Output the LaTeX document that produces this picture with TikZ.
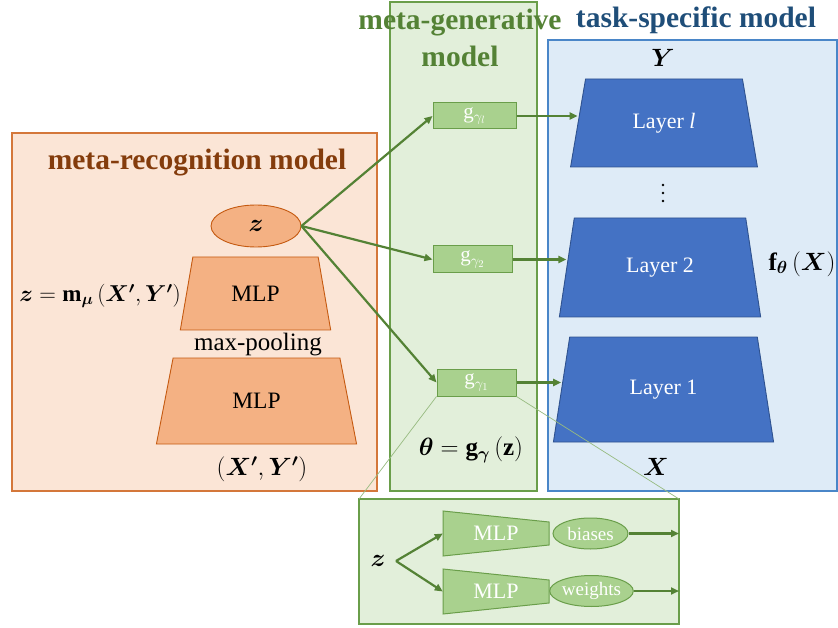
\RequirePackage{fix-cm}
\documentclass[tikz,border=0pt]{standalone}
\usepackage{fontspec}
\setmainfont{Liberation Serif}
\usepackage{amsmath,bm}
\usetikzlibrary{shapes,arrows.meta,positioning,calc}

\definecolor{recogfill}{HTML}{FBE5D6}
\definecolor{recogline}{HTML}{D4773A}
\definecolor{recogtitle}{HTML}{843C0C}
\definecolor{mlporange}{HTML}{F4B183}
\definecolor{mlpline}{HTML}{C55A11}
\definecolor{genfill}{HTML}{E2EFDA}
\definecolor{genline}{HTML}{6A9E4A}
\definecolor{gentitle}{HTML}{548235}
\definecolor{gbox}{HTML}{A9D18E}
\definecolor{taskfill}{HTML}{DEEBF7}
\definecolor{taskline}{HTML}{4A86C8}
\definecolor{tasktitle}{HTML}{1F4E79}
\definecolor{layerblue}{HTML}{4472C4}
\definecolor{layerline}{HTML}{2F528F}

\begin{document}
\begin{tikzpicture}[x=1pt,y=-1pt,
    panel/.style={rectangle, inner sep=0pt, outer sep=0pt, line width=1.2pt},
    title/.style={font=\fontsize{29.5}{37}\selectfont\bfseries, align=center},
    mlp/.style={trapezium, trapezium angle=76, trapezium stretches=true,
      fill=mlporange, draw=mlpline, line width=0.9pt, font=\fontsize{23.5}{26}\selectfont},
    layer/.style={trapezium, trapezium angle=76, trapezium stretches=true,
      fill=layerblue, draw=layerline, line width=0.9pt, text=white, font=\fontsize{22}{24}\selectfont},
    gen/.style={rectangle, fill=gbox, draw=genline, line width=1pt, text=white,
      minimum height=27, font=\fontsize{21}{23}\selectfont, inner sep=0pt},
    oval/.style={ellipse, fill=gbox, draw=genline, line width=1pt, text=white,
      minimum width=75, minimum height=31, inner sep=0pt, font=\fontsize{19}{21}\selectfont},
    lbl/.style={font=\fontsize{25}{28}\selectfont},
    arr/.style={-{Triangle[length=8pt,width=7pt]}, draw=gentitle, line width=2.2pt},
    zoomline/.style={draw=genline!70, line width=0.7pt}]
  \useasboundingbox (0,0) rectangle (838,628);

  % panels
  \node[panel, fill=recogfill, draw=recogline, minimum width=365, minimum height=358] (recog) at (194.5,312) {};
  \node[panel, fill=genfill, draw=genline, minimum width=147, minimum height=489] (gener) at (463.5,246.5) {};
  \node[panel, fill=taskfill, draw=taskline, minimum width=289, minimum height=451] (task) at (692.5,265.5) {};
  \node[panel, fill=genfill, draw=genline, minimum width=320, minimum height=125] (detail) at (519,561.5) {};

  % titles
  \node[title, text=recogtitle] (recogt) at (197,163) {meta-recognition model};
  \node[title, text=gentitle] (gent) at (460,38) {meta-generative\\model};
  \node[title, text=tasktitle] (taskt) at (696,20) {task-specific model};

  % meta-recognition model
  \node[ellipse, fill=mlporange, draw=mlpline, line width=0.9pt, minimum width=90, minimum height=42,
    lbl] (z) at (256,226) {$\bm{z}$};
  \node[mlp, minimum width=151, minimum height=73] (mlpup) at (255.5,293.5) {MLP};
  \node[lbl] (pool) at (258,345) {max-pooling};
  \node[mlp, minimum width=201, minimum height=86] (mlpdown) at (256.5,401) {MLP};
  \node[lbl] (xyp) at (262,469) {$(\bm{X'},\bm{Y'})$};
  \node[lbl, font=\fontsize{23}{26}\selectfont] (zeq) at (100,296) {$\bm{z}=\mathbf{m}_{\bm{\mu}}\,(\bm{X'},\bm{Y'})$};

  % meta-generative model
  \node[gen, minimum width=83, minimum height=26] (gl) at (474.5,116) {$\mathrm{g}_{\gamma_l}$};
  \node[gen, minimum width=79] (g2) at (472.5,259.5) {$\mathrm{g}_{\gamma_2}$};
  \node[gen, minimum width=79] (g1) at (476.5,382.5) {$\mathrm{g}_{\gamma_1}$};
  \node[lbl] (theta) at (471,450) {$\bm{\theta}=\mathbf{g}_{\bm{\gamma}}\,(\mathbf{z})$};

  % task-specific model
  \node[lbl] (y) at (663,58) {$\bm{Y}$};
  \node[layer, minimum width=188, minimum height=88] (ll) at (664,123) {Layer \textit{l}};
  \foreach \d in {185,193,201}
    \fill (663,\d) circle (1.3pt);
  \node[layer, minimum width=202, minimum height=99] (l2) at (660,267.5) {Layer 2};
  \node[layer, minimum width=221, minimum height=105] (l1) at (663.5,389.5) {Layer 1};
  \node[lbl] (x) at (656,467) {$\bm{X}$};
  \node[lbl] (f) at (802,264) {$\mathbf{f}_{\bm{\theta}}\,(\bm{X})$};

  % detail of g
  \draw[fill=gbox, draw=genline, line width=1pt] (443,511) -- (549,522) -- (549,545) -- (443,556) -- cycle;
  \draw[fill=gbox, draw=genline, line width=1pt] (443,569) -- (549,580) -- (549,603) -- (443,614) -- cycle;
  \node[minimum width=106, minimum height=45, inner sep=0pt, text=white, font=\fontsize{22}{24}\selectfont] (mlpb) at (496,533.5) {MLP};
  \node[minimum width=106, minimum height=45, inner sep=0pt, text=white, font=\fontsize{22}{24}\selectfont] (mlpw) at (496,591.5) {MLP};
  \node[lbl] (zd) at (378,561) {$\bm{z}$};
  \coordinate (fork) at (396,561);
  \node[oval] (bias) at (590.5,533.5) {biases};
  \node[oval] (wts) at (591.5,591) {weights};

  % connectors
  \draw[arr] (z.east) -- (gl.west);
  \draw[arr] (z.east) -- (g2.west);
  \draw[arr] (z.east) -- (g1.west);
  \draw[arr] (gl.east) -- (gl.east -| ll.west);
  \draw[arr] (g2.east) -- (g2.east -| l2.west);
  \draw[arr] (g1.east) -- (g1.east -| l1.west);
  \draw[arr] (fork) -- (mlpb.west);
  \draw[arr] (fork) -- (mlpw.west);
  \draw[arr] (bias.east) -- (bias.east -| detail.east);
  \draw[arr] (wts.east) -- (wts.east -| detail.east);

  % zoom lines
  \draw[zoomline] (g1.south west) -- (detail.north west);
  \draw[zoomline] (g1.south east) -- (detail.north east);
\end{tikzpicture}
\end{document}
